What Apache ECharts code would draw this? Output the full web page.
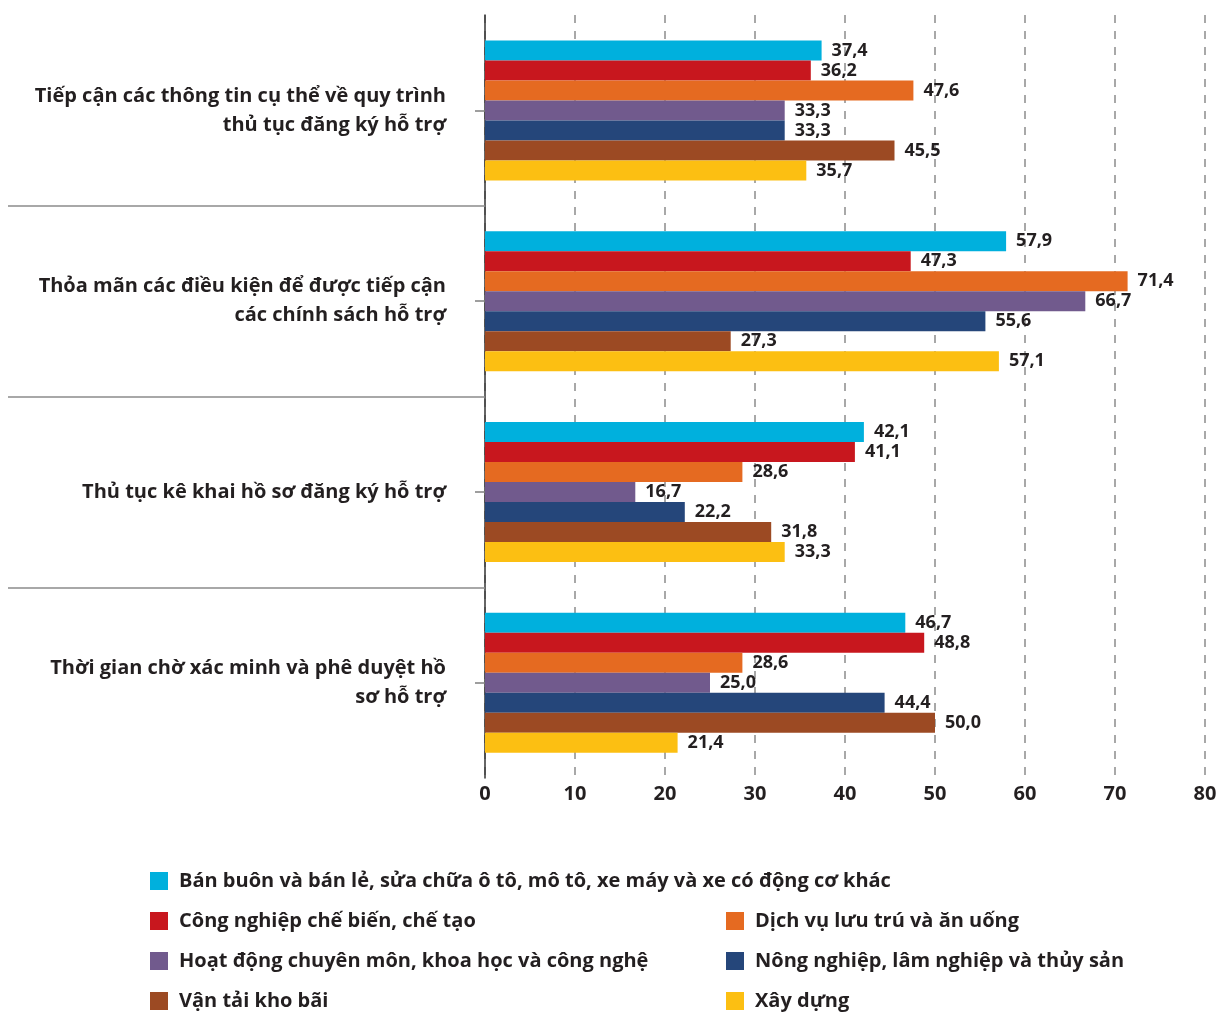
<!DOCTYPE html>
<html>
<head>
<meta charset="utf-8">
<script src="https://cdn.jsdelivr.net/npm/echarts@6/dist/echarts.min.js"></script>
<style>
  html, body { margin: 0; padding: 0; background: #fff; }
  #chart { width: 1224px; height: 1016px; }
</style>
</head>
<body>
<div id="chart"></div>
<script>
// Survey categories (difficulties in accessing support), top to bottom
const categories = [
  'Tiếp cận các thông tin cụ thể về quy trình\nthủ tục đăng ký hỗ trợ',
  'Thỏa mãn các điều kiện để được tiếp cận\ncác chính sách hỗ trợ',
  'Thủ tục kê khai hồ sơ đăng ký hỗ trợ',
  'Thời gian chờ xác minh và phê duyệt hồ\nsơ hỗ trợ'
];

// Economic sectors (one bar series each)
const sectorNames = [
  'Bán buôn và bán lẻ, sửa chữa ô tô, mô tô, xe máy và xe có động cơ khác',
  'Công nghiệp chế biến, chế tạo',
  'Dịch vụ lưu trú và ăn uống',
  'Hoạt động chuyên môn, khoa học và công nghệ',
  'Nông nghiệp, lâm nghiệp và thủy sản',
  'Vận tải kho bãi',
  'Xây dựng'
];

// Percentages per sector, in category order
const banBuon    = [37.4, 57.9, 42.1, 46.7];
const congNghiep = [36.2, 47.3, 41.1, 48.8];
const dichVu     = [47.6, 71.4, 28.6, 28.6];
const hoatDong   = [33.3, 66.7, 16.7, 25.0];
const nongNghiep = [33.3, 55.6, 22.2, 44.4];
const vanTai     = [45.5, 27.3, 31.8, 50.0];
const xayDung    = [35.7, 57.1, 33.3, 21.4];

const xTicks = [0, 10, 20, 30, 40, 50, 60, 70, 80];

const sectorValues = [banBuon, congNghiep, dichVu, hoatDong, nongNghiep, vanTai, xayDung];
const sectorColors = ['#00b0dd', '#c8171e', '#e56a21', '#715a8d', '#25467a', '#9c4a23', '#fcbf12'];

const FONT = '"Open Sans"';
const TEXT = '#231f20';

const chart = echarts.init(document.getElementById('chart'), null, { renderer: 'canvas' });

const series = sectorNames.map((name, i) => ({
  name,
  type: 'bar',
  yAxisIndex: 0,
  data: sectorValues[i],
  barWidth: 20,
  barGap: '0%',
  itemStyle: { color: sectorColors[i] },
  label: {
    show: true,
    position: 'right',
    distance: 10,
    fontFamily: FONT,
    fontWeight: 'bold',
    fontSize: 18,
    color: TEXT,
    formatter: p => p.value.toFixed(1).replace('.', ',')
  }
}));

const legendText = { fontFamily: FONT, fontWeight: 'bold', fontSize: 20, color: TEXT, lineHeight: 20, padding: [0, 0, 0, 6] };

chart.setOption({
  animation: false,
  backgroundColor: '#ffffff',
  grid: { left: 485, right: 19, top: 15, height: 763, containLabel: false },
  xAxis: {
    type: 'value',
    min: xTicks[0],
    max: xTicks[xTicks.length - 1],
    interval: 10,
    axisLine: { show: false },
    axisTick: { show: false },
    axisLabel: { fontFamily: FONT, fontWeight: 'bold', fontSize: 20, color: TEXT, margin: 6 },
    splitLine: { show: true, lineStyle: { color: '#8c8c8c', width: 1.5, type: [8, 8] } }
  },
  yAxis: [
    {
      type: 'category',
      data: categories,
      inverse: true,
      axisLine: { show: true, lineStyle: { color: '#333', width: 1.5 } },
      axisTick: { show: true, alignWithLabel: true, length: 10, lineStyle: { color: '#7f7f7f', width: 1.5 } },
      axisLabel: {
        fontFamily: FONT, fontWeight: 'bold', fontSize: 20, color: TEXT,
        lineHeight: 29, align: 'right', margin: 39
      }
    },
    {
      // separator lines between the category bands, running into the label area
      type: 'value',
      min: 0,
      max: categories.length,
      inverse: true,
      position: 'left',
      axisLine: { show: false },
      axisLabel: { show: false },
      splitLine: { show: false },
      axisTick: {
        show: true,
        length: 477,
        customValues: [1, 2, 3],
        lineStyle: { color: '#8c8c8c', width: 1.5 }
      }
    }
  ],
  legend: [
    {
      left: 150, top: 871, height: 200, orient: 'vertical', icon: 'rect', padding: 0,
      itemWidth: 18, itemHeight: 18, itemGap: 20,
      textStyle: legendText,
      data: [sectorNames[0], sectorNames[1], sectorNames[3], sectorNames[5]]
    },
    {
      left: 726, top: 911, height: 200, orient: 'vertical', icon: 'rect', padding: 0,
      itemWidth: 18, itemHeight: 18, itemGap: 20,
      textStyle: legendText,
      data: [sectorNames[2], sectorNames[4], sectorNames[6]]
    }
  ],
  series
});
</script>
</body>
</html>
